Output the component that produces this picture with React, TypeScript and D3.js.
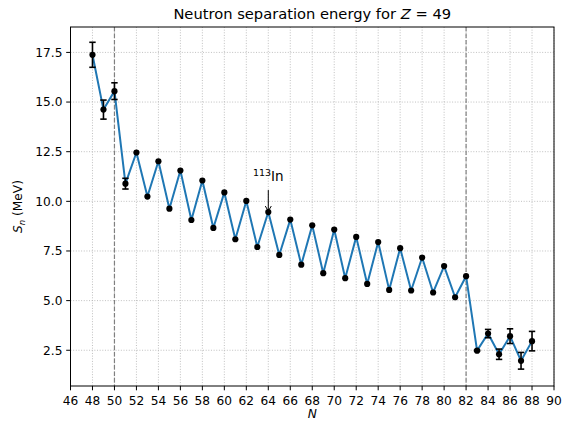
import React from "react";
import * as d3 from "d3";

const neutrons = [48,49,50,51,52,53,54,55,56,57,58,59,60,61,62,63,64,65,66,67,68,69,70,71,72,73,74,75,76,77,78,79,80,81,82,83,84,85,86,87,88];
const sn = [17.38,14.62,15.55,10.89,12.46,10.24,12.02,9.63,11.55,9.06,11.05,8.66,10.45,8.09,10.02,7.70,9.46,7.30,9.08,6.81,8.79,6.38,8.58,6.13,8.21,5.84,7.95,5.54,7.64,5.51,7.17,5.41,6.74,5.17,6.23,2.48,3.34,2.30,3.21,1.97,2.96];
const snErr = [0.63,0.48,0.42,0.27,0,0,0,0,0,0,0,0,0,0,0,0,0,0,0,0,0,0,0,0,0,0,0,0,0,0,0,0,0,0,0,0.03,0.21,0.26,0.37,0.42,0.49];
const xTicks = d3.range(46, 91, 2);
const yTicks = [2.5, 5.0, 7.5, 10.0, 12.5, 15.0, 17.5];
const magicNumbers = [50, 82];

const W = 563, H = 425;
const L = 70.5, R = 554, T = 27, B = 386;

export default function App() {
  const x = d3.scaleLinear().domain([46, 90]).range([L, R]);
  const y = d3.scaleLinear().domain([0.7, 18.78]).range([B, T]);
  const line = d3.line<number>().x((_, i) => x(neutrons[i])).y((d) => y(d));
  const font = "DejaVu Sans, sans-serif";
  const fs = 12.2;
  const ax = x(64), ay = y(9.46);
  return (
    <svg width={W} height={H} style={{ position: "absolute", left: 0, top: 0 }} fontFamily={font}>
      <rect x={0} y={0} width={W} height={H} fill="white" />
      {/* grid */}
      {xTicks.map((t) => (
        <line key={"gx" + t} x1={x(t)} x2={x(t)} y1={T} y2={B} stroke="#b0b0b0" strokeWidth={0.8} strokeDasharray="1,1.65" />
      ))}
      {yTicks.map((t) => (
        <line key={"gy" + t} x1={L} x2={R} y1={y(t)} y2={y(t)} stroke="#b0b0b0" strokeWidth={0.8} strokeDasharray="1,1.65" />
      ))}
      {magicNumbers.map((m) => (
        <line key={"m" + m} x1={x(m)} x2={x(m)} y1={T} y2={B} stroke="gray" strokeWidth={1.2} strokeDasharray="4.5,2" />
      ))}
      {/* line */}
      <path d={line(sn) || ""} fill="none" stroke="#1f77b4" strokeWidth={2} strokeLinejoin="round" />
      {/* error bars */}
      {sn.map((v, i) =>
        snErr[i] > 0 ? (
          <g key={"e" + i} stroke="black" strokeWidth={1.6}>
            <line x1={x(neutrons[i])} x2={x(neutrons[i])} y1={y(v - snErr[i])} y2={y(v + snErr[i])} />
            <line x1={x(neutrons[i]) - 3.2} x2={x(neutrons[i]) + 3.2} y1={y(v - snErr[i])} y2={y(v - snErr[i])} />
            <line x1={x(neutrons[i]) - 3.2} x2={x(neutrons[i]) + 3.2} y1={y(v + snErr[i])} y2={y(v + snErr[i])} />
          </g>
        ) : null
      )}
      {sn.map((v, i) => (
        <circle key={"p" + i} cx={x(neutrons[i])} cy={y(v)} r={3.1} fill="black" />
      ))}
      {/* annotation */}
      <line x1={ax} x2={ax} y1={ay - 22} y2={ay - 1} stroke="black" strokeWidth={1} />
      <path d={`M${ax - 3},${ay - 6} L${ax},${ay - 1} L${ax + 3},${ay - 6}`} fill="none" stroke="black" strokeWidth={1} />
      <text x={ax} y={ay - 31} textAnchor="middle" fontSize={13.5} fill="black">
        <tspan fontSize={9.5} dy={-5.5}>113</tspan>
        <tspan dy={5.5}>In</tspan>
      </text>
      {/* spines */}
      <rect x={L} y={T} width={R - L} height={B - T} fill="none" stroke="black" strokeWidth={1} />
      {/* x ticks */}
      {xTicks.map((t) => (
        <g key={"xt" + t}>
          <line x1={x(t)} x2={x(t)} y1={B} y2={B + 4.3} stroke="black" strokeWidth={1} />
          <text x={x(t)} y={B + 18.5} textAnchor="middle" fontSize={fs} fill="black">{t}</text>
        </g>
      ))}
      {yTicks.map((t) => (
        <g key={"yt" + t}>
          <line x1={L - 4.3} x2={L} y1={y(t)} y2={y(t)} stroke="black" strokeWidth={1} />
          <text x={L - 8} y={y(t) + 4.4} textAnchor="end" fontSize={fs} fill="black">{t.toFixed(1)}</text>
        </g>
      ))}
      {/* labels */}
      <text x={(L + R) / 2} y={418} textAnchor="middle" fontSize={fs} fontStyle="italic" fill="black">N</text>
      <text transform={`translate(22,${(T + B) / 2}) rotate(-90)`} textAnchor="middle" fontSize={fs} fill="black">
        <tspan fontStyle="italic">S</tspan>
        <tspan fontStyle="italic" fontSize={8.5} dy={3}>n</tspan>
        <tspan dy={-3}> (MeV)</tspan>
      </text>
      <text x={(L + R) / 2} y={19} textAnchor="middle" fontSize={14.7} fill="black">
        Neutron separation energy for <tspan fontStyle="italic">Z</tspan> = 49
      </text>
    </svg>
  );
}
